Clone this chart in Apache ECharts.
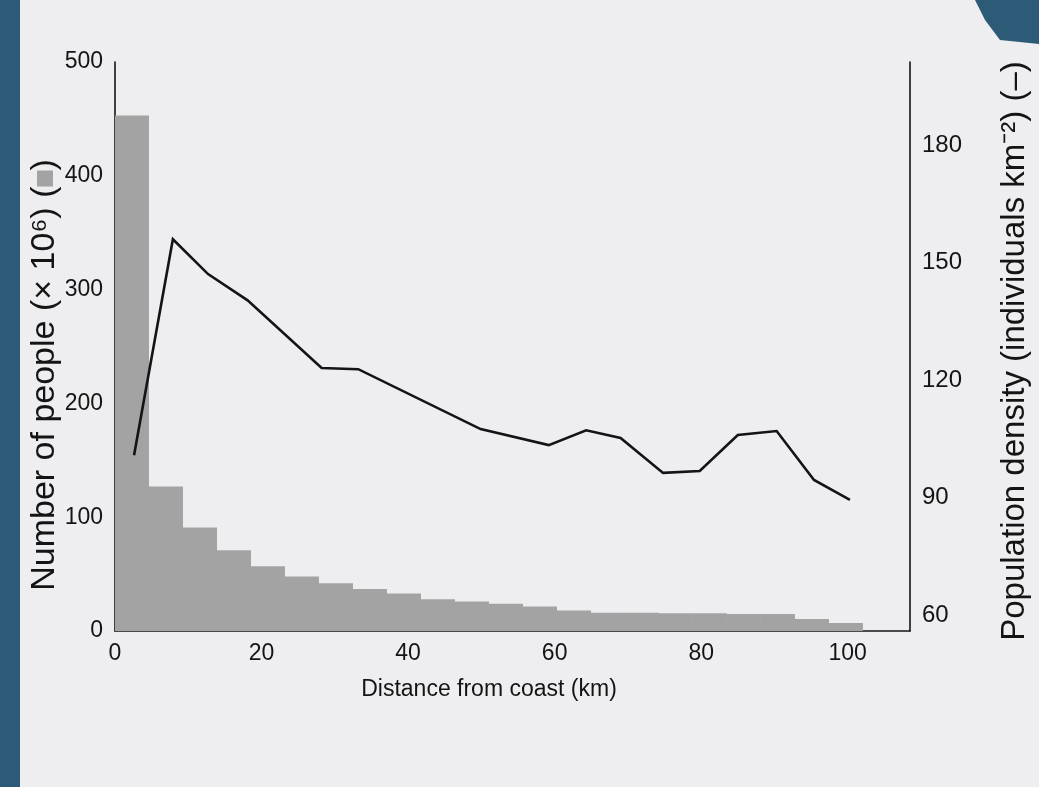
<!DOCTYPE html>
<html>
<head>
<meta charset="utf-8">
<script src="https://cdn.jsdelivr.net/npm/echarts@6/dist/echarts.min.js"></script>
<style>
html,body{margin:0;padding:0;background:#eeeef0;}
#c{width:1039px;height:787px;}
</style>
</head>
<body>
<div id="c"></div>
<script>
// ---- data ----
const binEdgesKm = [0, 4.64, 9.28, 13.92, 18.56, 23.2, 27.84, 32.48, 37.12, 41.76, 46.4, 51.04,
  55.68, 60.32, 64.96, 69.6, 74.24, 78.88, 83.52, 88.16, 92.8, 97.44, 102.08];
const peopleMillions = [453, 127, 91, 71, 57, 48, 42, 37, 33, 28, 26, 24, 21.5, 18,
  16, 16, 15.5, 15.5, 15, 15, 10.5, 7];
const densityKm = [2.6, 7.9, 12.7, 18.1, 28.2, 33.2, 49.9, 59.2, 64.3, 69.0, 74.8, 79.8, 85.0, 90.3, 95.4, 100.3];
const densityValues = [100.8, 156.0, 147.1, 140.4, 123.1, 122.8, 107.5, 103.4, 107.2, 105.2, 96.3, 96.8, 106.0, 107.0, 94.5, 89.4];
const xTickLabels = [0, 20, 40, 60, 80, 100];
const leftTickLabels = [0, 100, 200, 300, 400, 500];
const rightTickLabels = [60, 90, 120, 150, 180];

// ---- chart ----
const FONT = '"Liberation Sans", Arial, Helvetica, sans-serif';
const INK = '#141414';
const chart = echarts.init(document.getElementById('c'), null, {renderer: 'canvas'});

const barData = peopleMillions.map((v, i) => [binEdgesKm[i], binEdgesKm[i + 1], v]);
const lineData = densityKm.map((k, i) => [k, densityValues[i]]);

const option = {
  backgroundColor: '#eeeef0',
  animation: false,
  grid: {left: 115, right: 129, top: 62, bottom: 156, containLabel: false},
  xAxis: {
    type: 'value', min: 0, max: 108.5,
    axisLine: {show: true, lineStyle: {color: INK, width: 1.6}},
    axisTick: {show: false},
    splitLine: {show: false},
    axisLabel: {customValues: xTickLabels, color: INK, fontSize: 23, fontFamily: FONT, margin: 11}
  },
  yAxis: [
    {
      type: 'value', min: 0, max: 500, interval: 100, position: 'left',
      axisLine: {show: true, lineStyle: {color: INK, width: 1.6}},
      axisTick: {show: false},
      splitLine: {show: false},
      axisLabel: {customValues: leftTickLabels, color: INK, fontSize: 23, fontFamily: FONT, margin: 12}
    },
    {
      type: 'value', min: 55.9, max: 201.3, position: 'right',
      axisLine: {show: true, lineStyle: {color: INK, width: 1.6}},
      axisTick: {show: false},
      splitLine: {show: false},
      axisLabel: {customValues: rightTickLabels, color: INK, fontSize: 24, fontFamily: FONT, margin: 12}
    }
  ],
  series: [
    {
      type: 'custom',
      yAxisIndex: 0,
      data: barData,
      encode: {x: [0, 1], y: 2},
      z: 1,
      renderItem: function (params, api) {
        const x0 = api.value(0), x1 = api.value(1), v = api.value(2);
        const p0 = api.coord([x0, v]);
        const p1 = api.coord([x1, 0]);
        return {
          type: 'rect',
          shape: {x: p0[0], y: p0[1], width: p1[0] - p0[0], height: p1[1] - p0[1]},
          style: {fill: '#a3a3a3', stroke: null}
        };
      }
    },
    {
      type: 'line',
      yAxisIndex: 1,
      data: lineData,
      symbol: 'none',
      z: 3,
      lineStyle: {color: INK, width: 2.6, join: 'miter'}
    }
  ],
  graphic: [
    {type: 'rect', left: 0, top: 0, shape: {width: 20, height: 787}, style: {fill: '#2d5b77'}, z: -1},
    {type: 'polygon', shape: {points: [[975, 0], [1039, 0], [1039, 44], [1000, 40], [985, 20]]},
      style: {fill: '#2d5b77'}, z: -1},
    {
      type: 'text', x: 45, y: 375, rotation: Math.PI / 2,
      style: {
        text: 'Number of people (× 10⁶) ({sq|})',
        font: '34px ' + FONT, fill: INK, textAlign: 'center', textVerticalAlign: 'middle',
        rich: {sq: {width: 16, height: 16, backgroundColor: '#a3a3a3'}}
      }
    },
    {
      type: 'text', x: 1015, y: 351, rotation: Math.PI / 2,
      style: {
        text: 'Population density (individuals km⁻²) (–)',
        font: '33px ' + FONT, fill: INK, textAlign: 'center', textVerticalAlign: 'middle'
      }
    },
    {
      type: 'text', x: 489, y: 690,
      style: {
        text: 'Distance from coast (km)',
        font: '23px ' + FONT, fill: INK, textAlign: 'center', textVerticalAlign: 'middle'
      }
    }
  ]
};
chart.setOption(option);
</script>
</body>
</html>
